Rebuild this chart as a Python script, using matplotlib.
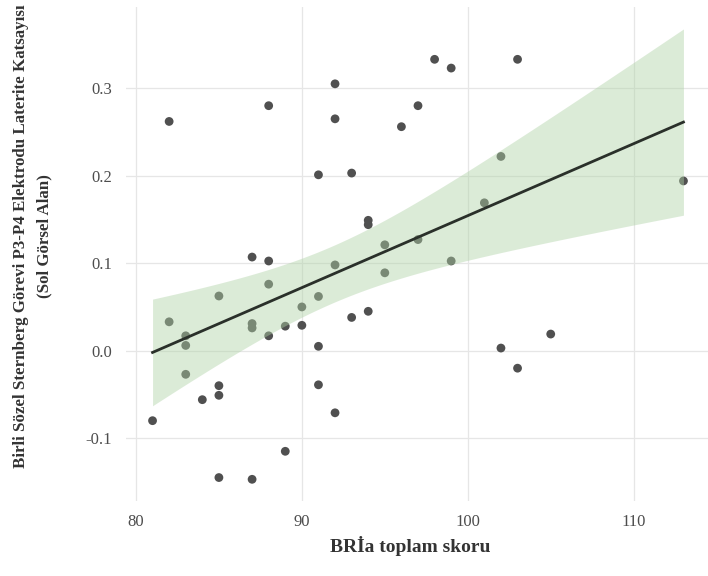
import numpy as np
import matplotlib
matplotlib.use("Agg")
import matplotlib.pyplot as plt

# BRIa total score vs. P3-P4 laterality coefficient (left visual field)
bria = [82, 88, 92, 92, 96, 97, 91, 93, 94, 94,
        95, 98, 99, 103, 102, 101, 113, 97, 87, 88,
        88, 85, 82, 83, 83, 83, 87, 87, 88, 89,
        90, 90, 91, 92, 95, 91, 93, 94, 85, 85,
        84, 81, 91, 92, 89, 85, 87, 99, 102, 103,
        105]
lat = [0.262, 0.280, 0.305, 0.265, 0.256, 0.280, 0.201, 0.203, 0.149, 0.144,
       0.121, 0.333, 0.323, 0.333, 0.222, 0.169, 0.194, 0.127, 0.107, 0.1025,
       0.076, 0.0625, 0.033, 0.017, 0.006, -0.027, 0.031, 0.026, 0.017, 0.028,
       0.029, 0.050, 0.062, 0.098, 0.089, 0.005, 0.038, 0.045, -0.040, -0.051,
       -0.056, -0.080, -0.039, -0.071, -0.115, -0.145, -0.147, 0.1025, 0.003, -0.020,
       0.019]

x_ticks = [80, 90, 100, 110]
y_ticks = [-0.1, 0.0, 0.1, 0.2, 0.3]
y_tick_labels = ["-0.1", "0.0", "0.1", "0.2", "0.3"]

plt.rcParams["font.family"] = ["Liberation Serif", "DejaVu Serif"]

x = np.array(bria, dtype=float)
y = np.array(lat, dtype=float)

# linear fit with 95% confidence band
n = len(x)
slope, intercept = np.polyfit(x, y, 1)
resid = y - (slope * x + intercept)
s = np.sqrt(np.sum(resid ** 2) / (n - 2))
sxx = np.sum((x - x.mean()) ** 2)
t_crit = 2.0096  # t(0.975, df=49)
xs = np.linspace(x.min(), x.max(), 200)
ys = slope * xs + intercept
se = s * np.sqrt(1.0 / n + (xs - x.mean()) ** 2 / sxx)
lo = ys - t_crit * se
hi = ys + t_crit * se

fig = plt.figure(figsize=(7.08, 5.76), dpi=100)
ax = fig.add_axes([126 / 708, 1 - 501 / 576, 584 / 708, 494 / 576])

ax.scatter(x, y, s=40, color="#505050", edgecolors="none", zorder=2)
ax.fill_between(xs, lo, hi, color="#afd2a6", alpha=0.44, linewidth=0, zorder=3)
ax.plot(xs, ys, color="#2a302a", linewidth=2.0, zorder=4)

ax.set_xlim(79.4, 114.6)
ax.set_ylim(-0.1718, 0.3928)
ax.set_xticks(x_ticks)
ax.set_yticks(y_ticks)
ax.set_yticklabels(y_tick_labels)

ax.grid(True, color="#e6e6e6", linewidth=0.9)
ax.set_axisbelow(True)
for sp in ax.spines.values():
    sp.set_visible(False)
ax.tick_params(length=0, labelsize=12, labelcolor="#4d4d4d")
ax.tick_params(axis="y", pad=10)
ax.tick_params(axis="x", pad=9)

ax.set_xlabel("BRİa toplam skoru", fontsize=14, fontweight="bold", color="#333333")
ax.set_ylabel("Birli Sözel Sternberg Görevi P3-P4 Elektrodu Laterite Katsayısı\n(Sol Görsel Alan)",
              fontsize=12.2, fontweight="bold", color="#333333", linespacing=1.6)
ax.xaxis.set_label_coords((410 - 126) / 584, -(546 - 501) / 494)
ax.yaxis.set_label_coords(-(126 - 33) / 584, (501 - 236) / 494)
ax.xaxis.label.set_va("center")
ax.yaxis.label.set_va("center")

fig.savefig("out.png", dpi=100)
